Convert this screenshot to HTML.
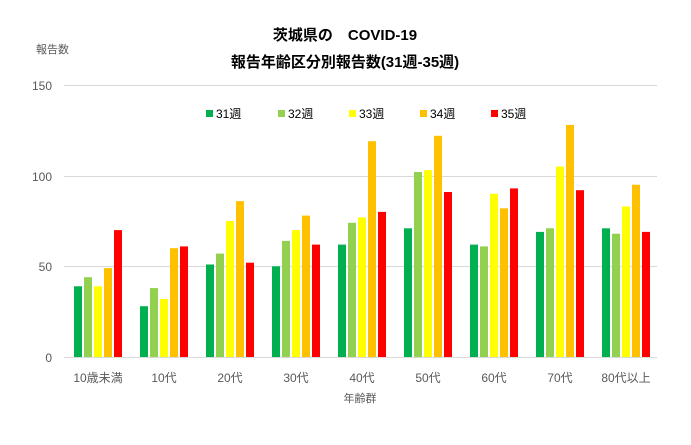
<!DOCTYPE html>
<html><head><meta charset="utf-8"><style>
body{margin:0;background:#fff}
text{font-family:"Liberation Sans","Noto Sans CJK JP",sans-serif}
</style></head><body>
<svg width="691" height="440" xmlns="http://www.w3.org/2000/svg">
<rect width="691" height="440" fill="#fff"/>
<text x="345" y="40" font-size="15" font-weight="bold" text-anchor="middle" fill="#000">茨城県の　COVID-19</text>
<text x="345" y="67" font-size="15" font-weight="bold" text-anchor="middle" fill="#000">報告年齢区分別報告数(31週-35週)</text>
<text x="36" y="53" font-size="11" fill="#595959">報告数</text>
<g stroke="#d9d9d9" stroke-width="1">
<line x1="64" y1="85.5" x2="657" y2="85.5"/>
<line x1="64" y1="176.5" x2="657" y2="176.5"/>
<line x1="64" y1="266.5" x2="657" y2="266.5"/>
<line x1="64" y1="357.5" x2="657" y2="357.5"/>
</g>
<g font-size="12" fill="#595959" text-anchor="end">
<text x="52" y="90">150</text><text x="52" y="181">100</text><text x="52" y="271">50</text><text x="52" y="362">0</text>
</g>
<g font-size="12" fill="#000">
<rect x="206" y="110" width="7" height="7" fill="#00b050"/><text x="216" y="118">31週</text>
<rect x="278" y="110" width="7" height="7" fill="#92d050"/><text x="288" y="118">32週</text>
<rect x="349" y="110" width="7" height="7" fill="#ffff00"/><text x="359" y="118">33週</text>
<rect x="420" y="110" width="7" height="7" fill="#ffc000"/><text x="430" y="118">34週</text>
<rect x="491" y="110" width="7" height="7" fill="#ff0000"/><text x="501" y="118">35週</text>
</g>
<g>
<rect x="74" y="286.3" width="8" height="70.7" fill="#00b050"/>
<rect x="84" y="277.2" width="8" height="79.8" fill="#92d050"/>
<rect x="94" y="286.3" width="8" height="70.7" fill="#ffff00"/>
<rect x="104" y="268.1" width="8" height="88.9" fill="#ffc000"/>
<rect x="114" y="230.1" width="8" height="126.9" fill="#ff0000"/>

<rect x="140" y="306.2" width="8" height="50.8" fill="#00b050"/>
<rect x="150" y="288.1" width="8" height="68.9" fill="#92d050"/>
<rect x="160" y="299.0" width="8" height="58.0" fill="#ffff00"/>
<rect x="170" y="248.2" width="8" height="108.8" fill="#ffc000"/>
<rect x="180" y="246.4" width="8" height="110.6" fill="#ff0000"/>

<rect x="206" y="264.5" width="8" height="92.5" fill="#00b050"/>
<rect x="216" y="253.6" width="8" height="103.4" fill="#92d050"/>
<rect x="226" y="221.0" width="8" height="136.0" fill="#ffff00"/>
<rect x="236" y="201.1" width="8" height="155.9" fill="#ffc000"/>
<rect x="246" y="262.7" width="8" height="94.3" fill="#ff0000"/>

<rect x="272" y="266.3" width="8" height="90.7" fill="#00b050"/>
<rect x="282" y="240.9" width="8" height="116.1" fill="#92d050"/>
<rect x="292" y="230.1" width="8" height="126.9" fill="#ffff00"/>
<rect x="302" y="215.6" width="8" height="141.4" fill="#ffc000"/>
<rect x="312" y="244.6" width="8" height="112.4" fill="#ff0000"/>

<rect x="338" y="244.6" width="8" height="112.4" fill="#00b050"/>
<rect x="348" y="222.8" width="8" height="134.2" fill="#92d050"/>
<rect x="358" y="217.4" width="8" height="139.6" fill="#ffff00"/>
<rect x="368" y="141.2" width="8" height="215.8" fill="#ffc000"/>
<rect x="378" y="211.9" width="8" height="145.1" fill="#ff0000"/>

<rect x="404" y="228.3" width="8" height="128.7" fill="#00b050"/>
<rect x="414" y="172.0" width="8" height="185.0" fill="#92d050"/>
<rect x="424" y="170.2" width="8" height="186.8" fill="#ffff00"/>
<rect x="434" y="135.8" width="8" height="221.2" fill="#ffc000"/>
<rect x="444" y="192.0" width="8" height="165.0" fill="#ff0000"/>

<rect x="470" y="244.6" width="8" height="112.4" fill="#00b050"/>
<rect x="480" y="246.4" width="8" height="110.6" fill="#92d050"/>
<rect x="490" y="193.8" width="8" height="163.2" fill="#ffff00"/>
<rect x="500" y="208.3" width="8" height="148.7" fill="#ffc000"/>
<rect x="510" y="188.4" width="8" height="168.6" fill="#ff0000"/>

<rect x="536" y="231.9" width="8" height="125.1" fill="#00b050"/>
<rect x="546" y="228.3" width="8" height="128.7" fill="#92d050"/>
<rect x="556" y="166.6" width="8" height="190.4" fill="#ffff00"/>
<rect x="566" y="124.9" width="8" height="232.1" fill="#ffc000"/>
<rect x="576" y="190.2" width="8" height="166.8" fill="#ff0000"/>

<rect x="602" y="228.3" width="8" height="128.7" fill="#00b050"/>
<rect x="612" y="233.7" width="8" height="123.3" fill="#92d050"/>
<rect x="622" y="206.5" width="8" height="150.5" fill="#ffff00"/>
<rect x="632" y="184.7" width="8" height="172.3" fill="#ffc000"/>
<rect x="642" y="231.9" width="8" height="125.1" fill="#ff0000"/>
</g>
<g font-size="12" fill="#595959" text-anchor="middle">
<text x="98" y="382">10歳未満</text><text x="164" y="382">10代</text><text x="230" y="382">20代</text>
<text x="296" y="382">30代</text><text x="362" y="382">40代</text><text x="428" y="382">50代</text>
<text x="494" y="382">60代</text><text x="560" y="382">70代</text><text x="626" y="382">80代以上</text>
</g>
<text x="360" y="402" font-size="11" fill="#595959" text-anchor="middle">年齢群</text>
</svg>
</body></html>
